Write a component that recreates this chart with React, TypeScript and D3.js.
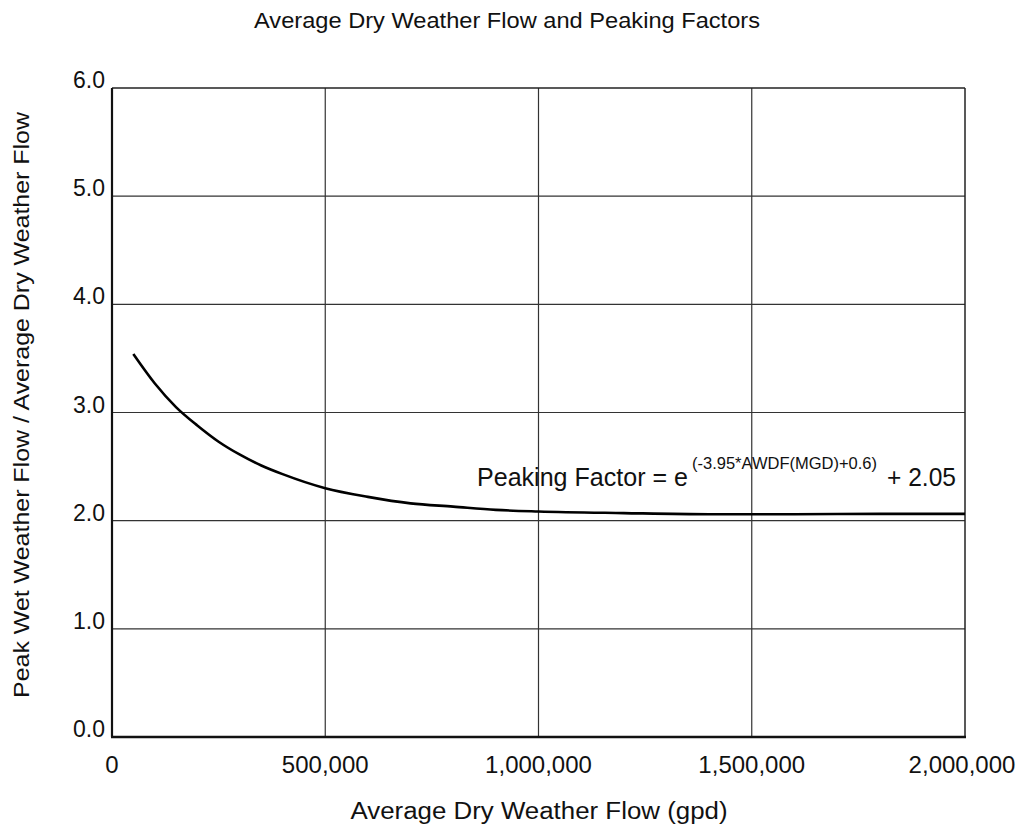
import React from "react";
import * as d3 from "d3";

const flowGpd = [50000, 100000, 150000, 200000, 250000, 300000, 350000, 400000, 500000, 600000, 700000, 800000, 900000, 1000000, 1200000, 1400000, 1600000, 1800000, 2000000];
const peakFactor = [3.54, 3.27, 3.05, 2.88, 2.73, 2.61, 2.51, 2.43, 2.30, 2.22, 2.16, 2.13, 2.10, 2.085, 2.07, 2.06, 2.06, 2.063, 2.063];
const xTicks = [0, 500000, 1000000, 1500000, 2000000];
const yTicks = [0, 1, 2, 3, 4, 5, 6];

const W = 1024;
const H = 825;
const FONT = "'Liberation Sans', Arial, Helvetica, sans-serif";

export default function App() {
  const x = d3.scaleLinear().domain([0, 2000000]).range([112, 965]);
  const y = d3.scaleLinear().domain([0, 6]).range([737, 88]);
  const pts = flowGpd.map((f, i) => [f, peakFactor[i]] as [number, number]);
  const line = d3
    .line<[number, number]>()
    .x((d) => x(d[0]))
    .y((d) => y(d[1]))
    .curve(d3.curveMonotoneX);
  const fmt = d3.format(",");

  return (
    <svg
      width={W}
      height={H}
      style={{ position: "absolute", left: 0, top: 0, background: "#fff" }}
      fontFamily={FONT}
    >
      <rect x={0} y={0} width={W} height={H} fill="#fff" />
      {/* grid */}
      {yTicks.slice(1, 6).map((t) => (
        <line key={"gy" + t} x1={x(0)} x2={x(2000000)} y1={y(t)} y2={y(t)} stroke="#333" strokeWidth={1.2} />
      ))}
      {xTicks.slice(1, 4).map((t) => (
        <line key={"gx" + t} x1={x(t)} x2={x(t)} y1={y(0)} y2={y(6)} stroke="#333" strokeWidth={1.2} />
      ))}
      {/* border */}
      <line x1={x(0)} x2={x(2000000)} y1={y(6)} y2={y(6)} stroke="#222" strokeWidth={1.5} />
      <line x1={x(2000000)} x2={x(2000000)} y1={y(6)} y2={y(0)} stroke="#222" strokeWidth={1.5} />
      <line x1={x(0)} x2={x(0)} y1={y(6)} y2={y(0)} stroke="#111" strokeWidth={2.2} />
      <line x1={x(0) - 1} x2={x(2000000) + 1} y1={y(0)} y2={y(0)} stroke="#111" strokeWidth={2.5} />
      {/* curve */}
      <path d={line(pts) || ""} fill="none" stroke="#000" strokeWidth={2.6} />
      {/* y tick labels */}
      {yTicks.map((t) => (
        <text key={"yl" + t} x={105} y={y(t)} textAnchor="end" fontSize={23} fill="#111">
          {t.toFixed(1)}
        </text>
      ))}
      {/* x tick labels */}
      {xTicks.map((t, i) => (
        <text
          key={"xl" + t}
          x={i === xTicks.length - 1 ? x(t) - 3 : x(t)}
          y={773}
          textAnchor="middle"
          fontSize={24}
          fill="#111"
        >
          {fmt(t)}
        </text>
      ))}
      {/* title */}
      <text x={507} y={28} textAnchor="middle" fontSize={22} fill="#111" textLength={506} lengthAdjust="spacingAndGlyphs">
        Average Dry Weather Flow and Peaking Factors
      </text>
      {/* x axis title */}
      <text x={539} y={819} textAnchor="middle" fontSize={23} fill="#111" textLength={377} lengthAdjust="spacingAndGlyphs">
        Average Dry Weather Flow (gpd)
      </text>
      {/* y axis title */}
      <text
        transform={"translate(29,405) rotate(-90)"}
        textAnchor="middle"
        fontSize={22}
        fill="#111"
        textLength={586}
        lengthAdjust="spacingAndGlyphs"
      >
        Peak Wet Weather Flow / Average Dry Weather Flow
      </text>
      {/* annotation */}
      <text x={477} y={486} fontSize={25} fill="#111" textLength={211} lengthAdjust="spacingAndGlyphs">
        Peaking Factor = e
      </text>
      <text x={692} y={469} fontSize={16} fill="#111" textLength={185} lengthAdjust="spacingAndGlyphs">
        (-3.95*AWDF(MGD)+0.6)
      </text>
      <text x={887} y={486} fontSize={25} fill="#111" textLength={69} lengthAdjust="spacingAndGlyphs">
        + 2.05
      </text>
    </svg>
  );
}
